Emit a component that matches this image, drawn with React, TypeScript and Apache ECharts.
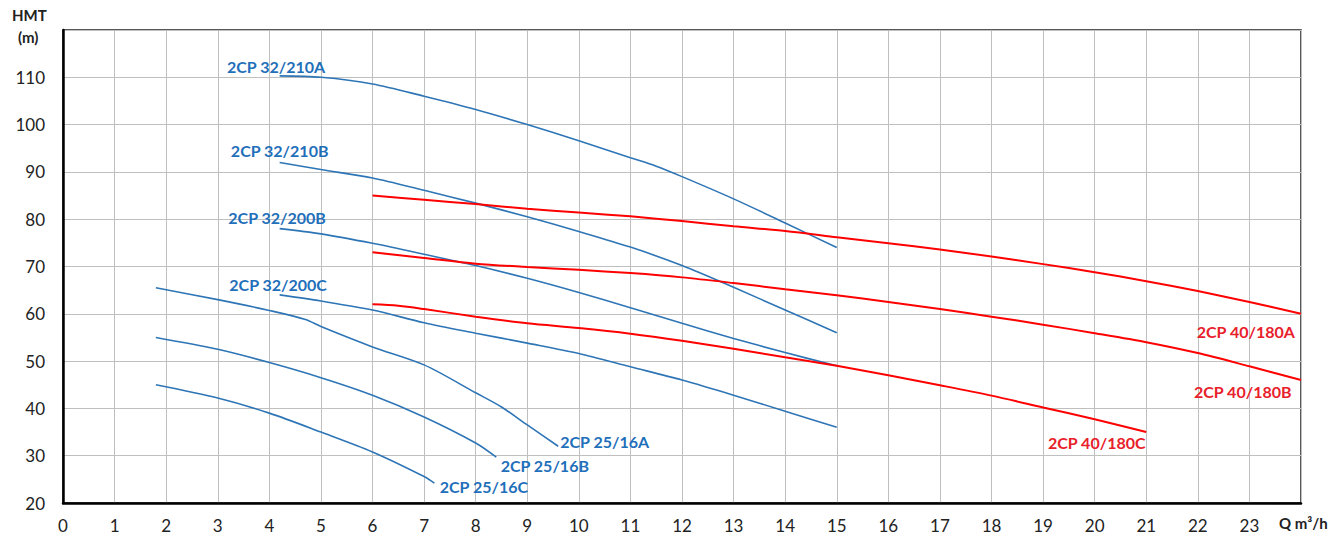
import React, { useEffect, useRef } from "react";
import * as echarts from "echarts";

// Flow Q (m³/h) / head HMT (m) points
const cp32_210A: [number, number][] = [[4.2, 110.3], [5, 110], [6, 108.6], [7, 106], [8, 103.2], [9, 100], [10, 96.6], [11, 93], [11.5, 91.2], [12, 89], [13, 84.3], [14, 79.2], [15, 74]];
const cp32_210B: [number, number][] = [[4.2, 92], [5, 90.5], [6, 88.7], [7, 86.1], [8, 83.4], [9, 80.5], [10, 77.4], [11, 74.1], [12, 70.2], [13, 65.6], [14, 60.8], [15, 56]];
const cp32_200B: [number, number][] = [[4.2, 78], [5, 76.9], [6, 74.9], [7, 72.6], [8, 70.2], [9, 67.5], [10, 64.5], [11, 61.3], [12, 58], [13, 54.8], [14, 51.8], [15, 49]];
const cp32_200C: [number, number][] = [[4.2, 64], [5, 62.7], [6, 60.8], [7, 58.1], [8, 55.9], [9, 53.8], [10, 51.6], [11, 48.8], [12, 46], [13, 42.8], [14, 39.4], [15, 36]];
const cp25_16A: [number, number][] = [[1.8, 65.5], [3, 63], [4, 60.7], [4.7, 58.8], [5, 57.3], [6, 53], [7, 49.2], [8, 43.3], [8.5, 40.3], [9, 36.5], [9.6, 32]];
const cp25_16B: [number, number][] = [[1.8, 55], [3, 52.5], [4, 49.7], [5, 46.5], [6, 42.8], [7, 38.2], [8, 32.7], [8.4, 29.7]];
const cp25_16C: [number, number][] = [[1.8, 45], [3, 42.2], [4, 39], [5, 35], [6, 30.8], [7, 25.6], [7.2, 24.2]];
const cp40_180A: [number, number][] = [[6, 85], [7, 84.1], [8, 83.2], [9, 82.2], [10, 81.4], [11, 80.6], [12, 79.6], [13, 78.5], [14, 77.5], [15, 76.2], [16, 74.9], [17, 73.6], [18, 72.1], [19, 70.5], [20, 68.8], [21, 66.9], [22, 64.8], [23, 62.5], [24, 60]];
const cp40_180B: [number, number][] = [[6, 73], [7, 71.8], [8, 70.6], [9, 69.9], [10, 69.3], [11, 68.6], [12, 67.7], [13, 66.5], [14, 65.2], [15, 63.9], [16, 62.5], [17, 61], [18, 59.4], [19, 57.7], [20, 55.9], [21, 54], [22, 51.7], [23, 48.9], [24, 46]];
const cp40_180C: [number, number][] = [[6, 62], [6.5, 61.7], [7, 61], [8, 59.4], [9, 58], [10, 57], [11, 55.8], [12, 54.3], [13, 52.6], [14, 50.8], [15, 49], [16, 47], [17, 44.9], [18, 42.7], [19, 40.2], [20, 37.7], [21, 35]];

const names = ["2CP 32/210A", "2CP 32/210B", "2CP 32/200B", "2CP 32/200C", "2CP 25/16A", "2CP 25/16B", "2CP 25/16C", "2CP 40/180A", "2CP 40/180B", "2CP 40/180C"];
const curves = [cp32_210A, cp32_210B, cp32_200B, cp32_200C, cp25_16A, cp25_16B, cp25_16C, cp40_180A, cp40_180B, cp40_180C];
// label anchor (data coordinates) for each curve's name
const labelAt: [number, number][] = [[4.13, 112.3], [4.2, 94.6], [4.15, 80.4], [4.17, 66.3], [10.5, 32.9], [9.34, 28], [8.16, 23.4], [22.93, 56.3], [22.87, 43.5], [20.04, 32.7]];
const isRed = [false, false, false, false, false, false, false, true, true, true];

const xTicks = [0, 24];
const yTicks = [20, 120];

export default function App() {
  const ref = useRef<HTMLDivElement>(null);
  useEffect(() => {
    if (!ref.current) return;
    const chart = echarts.init(ref.current, undefined, { renderer: "svg" });
    const font = "Lato, 'Open Sans', sans-serif";
    const series = curves.map((c, i) => ({
      type: "line",
      name: names[i],
      data: c,
      showSymbol: false,
      smooth: 0.3,
      lineStyle: { color: isRed[i] ? "#FF0000" : "#2E75B6", width: isRed[i] ? 2 : 1.6 },
      markPoint: {
        symbol: "circle",
        symbolSize: 0,
        data: [{ coord: labelAt[i] }],
        label: {
          show: true,
          position: "inside",
          formatter: names[i],
          color: isRed[i] ? "#E8202A" : "#1F6FBA",
          fontFamily: font,
          fontWeight: "bold",
          fontSize: 16,
        },
      },
    }));
    chart.setOption({
      animation: false,
      grid: { left: 63, top: 30, right: 36, bottom: 35, show: true, borderColor: "#222", borderWidth: 1.5 },
      xAxis: {
        type: "value",
        min: xTicks[0],
        max: xTicks[1],
        interval: 1,
        axisLine: { show: true, lineStyle: { color: "#000", width: 2.5 } },
        axisTick: { show: false },
        splitLine: { show: true, lineStyle: { color: "#BFBFBF", width: 1 } },
        axisLabel: {
          color: "#222",
          fontFamily: font,
          fontSize: 17,
          margin: 14,
          formatter: (v: number) => (v === xTicks[1] ? "" : String(v)),
        },
      },
      yAxis: {
        type: "value",
        min: yTicks[0],
        max: yTicks[1],
        interval: 10,
        axisLine: { show: true, lineStyle: { color: "#000", width: 2.5 } },
        axisTick: { show: false },
        splitLine: { show: true, lineStyle: { color: "#BFBFBF", width: 1 } },
        axisLabel: {
          color: "#222",
          fontFamily: font,
          fontSize: 17,
          margin: 18,
          formatter: (v: number) => (v === yTicks[1] ? "" : String(v)),
        },
      },
      graphic: [
        { type: "text", left: 12, top: 7, style: { text: "HMT", fontFamily: font, fontWeight: "bold", fontSize: 15, fill: "#222" } },
        { type: "text", left: 18, top: 29, style: { text: "(m)", fontFamily: font, fontWeight: "bold", fontSize: 15, fill: "#222" } },
        { type: "text", left: 1279, top: 515, style: { text: "Q m³/h", fontFamily: font, fontWeight: "bold", fontSize: 15, fill: "#222" } },
      ],
      series,
    });
    return () => chart.dispose();
  }, []);
  return <div ref={ref} style={{ position: "fixed", left: 0, top: 0, width: 1337, height: 538, background: "#fff" }} />;
}
